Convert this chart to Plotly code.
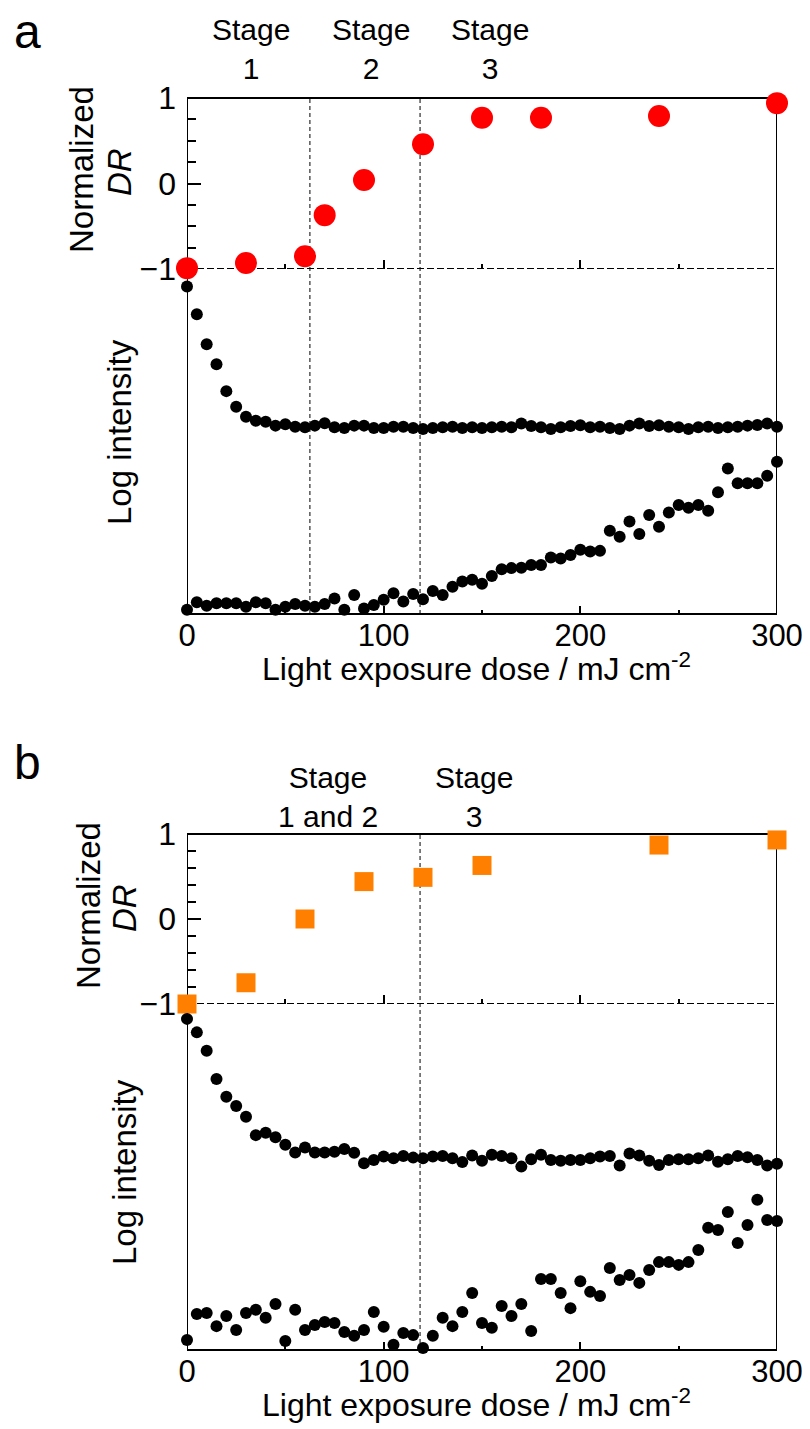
import plotly.graph_objects as go

# ---------------- data ----------------
dose = [i * 5 for i in range(61)]

# Panel a
a_dr_x = [0, 30, 60, 70, 90, 120, 150, 180, 240, 300]
a_dr_y = [-0.99, -0.93, -0.85, -0.37, 0.04, 0.46, 0.77, 0.77, 0.79, 0.94]

a_upper = [9.49, 8.69, 7.82, 7.24, 6.46, 6.01, 5.72, 5.60, 5.57, 5.46,
           5.50, 5.43, 5.41, 5.46, 5.53, 5.41, 5.39, 5.46, 5.46, 5.39,
           5.39, 5.43, 5.43, 5.39, 5.36, 5.39, 5.41, 5.43, 5.39, 5.41,
           5.39, 5.41, 5.43, 5.41, 5.52, 5.45, 5.41, 5.36, 5.41, 5.45,
           5.47, 5.41, 5.43, 5.39, 5.36, 5.46, 5.52, 5.45, 5.47, 5.43,
           5.41, 5.36, 5.41, 5.43, 5.39, 5.41, 5.43, 5.46, 5.48, 5.52,
           5.43]

a_lower = [0.12, 0.34, 0.24, 0.31, 0.31, 0.31, 0.21, 0.34, 0.31, 0.12,
           0.21, 0.29, 0.24, 0.21, 0.29, 0.45, 0.12, 0.55, 0.16, 0.26,
           0.41, 0.60, 0.36, 0.58, 0.43, 0.67, 0.55, 0.79, 0.94, 0.99,
           0.88, 1.10, 1.30, 1.33, 1.34, 1.42, 1.42, 1.64, 1.61, 1.71,
           1.86, 1.81, 1.83, 2.41, 2.24, 2.68, 2.32, 2.87, 2.53, 2.94,
           3.16, 3.08, 3.16, 2.99, 3.53, 4.22, 3.79, 3.79, 3.79, 4.01,
           4.41]

# Panel b
b_dr_x = [0, 30, 60, 90, 120, 150, 240, 300]
b_dr_y = [-1.0, -0.75, 0.0, 0.44, 0.49, 0.63, 0.87, 0.93]

b_upper = [9.57, 9.18, 8.65, 7.83, 7.32, 7.05, 6.74, 6.21, 6.28, 6.15,
           5.93, 5.71, 5.85, 5.71, 5.71, 5.73, 5.81, 5.70, 5.40, 5.49,
           5.59, 5.54, 5.61, 5.56, 5.54, 5.59, 5.61, 5.54, 5.43, 5.62,
           5.47, 5.64, 5.61, 5.54, 5.30, 5.51, 5.64, 5.49, 5.47, 5.49,
           5.49, 5.54, 5.59, 5.61, 5.33, 5.68, 5.62, 5.47, 5.35, 5.49,
           5.51, 5.51, 5.54, 5.62, 5.44, 5.51, 5.61, 5.57, 5.49, 5.33,
           5.38]

b_lower = [0.29, 1.04, 1.07, 0.69, 0.98, 0.58, 1.07, 1.16, 0.93, 1.33,
           0.26, 1.16, 0.58, 0.72, 0.81, 0.78, 0.52, 0.41, 0.58, 1.10,
           0.67, 0.15, 0.49, 0.43, 0.06, 0.41, 0.93, 0.69, 1.10, 1.65,
           0.78, 0.64, 1.27, 0.98, 1.33, 0.55, 2.05, 2.05, 1.65, 1.21,
           1.99, 1.68, 1.56, 2.37, 2.02, 2.17, 1.94, 2.31, 2.54, 2.54,
           2.46, 2.54, 2.89, 3.53, 3.47, 3.99, 3.09, 3.61, 4.34, 3.76,
           3.73]

a_stage_lines = [62.5, 118.5]
b_stage_lines = [118.5]
x_ticks = [0, 100, 200, 300]

# ---------------- layout helpers ----------------
W, H = 810, 1429
FONT = "Liberation Sans, Arial, Helvetica, sans-serif"


def py(p):
    return 1 - p / H


def px(p):
    return p / W


XDOM = [px(187), px(777)]
A_TOP, A_MID, A_BOT = 98, 269, 614
B_TOP, B_MID, B_BOT = 834, 1004, 1350

fig = go.Figure()


def add_pts(x, y, xa, ya, color, size, symbol="circle"):
    fig.add_trace(go.Scatter(
        x=x, y=y, xaxis=xa, yaxis=ya, mode="markers",
        marker=dict(color=color, size=size, symbol=symbol, line=dict(width=0)),
        cliponaxis=False, showlegend=False, hoverinfo="skip"))


add_pts(dose, a_upper, "x2", "y2", "black", 12)
add_pts(dose, a_lower, "x2", "y2", "black", 12)
add_pts(a_dr_x, a_dr_y, "x", "y", "#FF0000", 22)
add_pts(dose, b_upper, "x4", "y4", "black", 12)
add_pts(dose, b_lower, "x4", "y4", "black", 12)
add_pts(b_dr_x, b_dr_y, "x3", "y3", "#FF8000", 19, "square")

tickfont = dict(family=FONT, size=32, color="black")
xtickfont = dict(family=FONT, size=31, color="black")


def xaxis_cfg(anchor, labels, major_len, minor_len):
    return dict(domain=XDOM, range=[0, 300], anchor=anchor, automargin=False,
                showgrid=False, zeroline=False, showline=False,
                ticks="inside", tickmode="array", tickvals=x_ticks,
                ticklen=major_len, tickwidth=2, tickcolor="black",
                showticklabels=labels, tickfont=xtickfont, ticklabelstandoff=0,
                minor=dict(ticks="inside", dtick=50, tick0=0, ticklen=minor_len,
                           tickwidth=2, tickcolor="black"))


def ydr_cfg(anchor, dom, minor_dtick):
    return dict(domain=dom, range=[-1, 1], anchor=anchor, automargin=False,
                showgrid=False, zeroline=False, showline=False,
                ticks="inside", tickmode="linear", tick0=-1, dtick=1,
                ticklen=14, tickwidth=2, tickcolor="black",
                tickfont=tickfont, ticklabelstandoff=10,
                minor=dict(ticks="inside", dtick=minor_dtick, tick0=-1, ticklen=9,
                           tickwidth=2, tickcolor="black"))


def ylow_cfg(anchor, dom):
    return dict(domain=dom, range=[0, 10], anchor=anchor, showgrid=False,
                automargin=False,
                zeroline=False, showline=False, ticks="", showticklabels=False)


fig.update_layout(
    width=W, height=H, autosize=False,
    margin=dict(l=0, r=0, t=0, b=0, pad=0, autoexpand=False),
    paper_bgcolor="white", plot_bgcolor="rgba(0,0,0,0)",
    font=dict(family=FONT, color="black"),
    xaxis=xaxis_cfg("y", False, 9, 5),
    yaxis=ydr_cfg("x", [py(A_MID), py(A_TOP)], 0.25),
    xaxis2=xaxis_cfg("y2", True, 8, 4),
    yaxis2=ylow_cfg("x2", [py(A_BOT), py(A_MID)]),
    xaxis3=xaxis_cfg("y3", False, 9, 5),
    yaxis3=ydr_cfg("x3", [py(B_MID), py(B_TOP)], 0.2),
    xaxis4=xaxis_cfg("y4", True, 8, 4),
    yaxis4=ylow_cfg("x4", [py(B_BOT), py(B_MID)]),
)

shapes = []
for xr, yr, top, bot, lines in [("x", "y", A_TOP, A_BOT, a_stage_lines),
                                ("x3", "y3", B_TOP, B_BOT, b_stage_lines)]:
    shapes.append(dict(type="rect", xref=xr, yref="paper", x0=0, x1=300,
                       y0=py(bot), y1=py(top), line=dict(color="black", width=2),
                       layer="below"))
    shapes.append(dict(type="line", xref=xr, yref=yr, x0=0, x1=300, y0=-1, y1=-1,
                       line=dict(color="black", width=2, dash="7px,3px"), layer="below"))
    for xv in lines:
        shapes.append(dict(type="line", xref=xr, yref="paper", x0=xv, x1=xv,
                           y0=py(bot), y1=py(top),
                           line=dict(color="black", width=1, dash="4px,3px"),
                           layer="below"))
fig.update_layout(shapes=shapes)


def ann(text, x, y, size, angle=0):
    fig.add_annotation(text=text, x=px(x), y=py(y), xref="paper", yref="paper",
                       showarrow=False, textangle=angle, xanchor="center",
                       yanchor="middle", font=dict(family=FONT, size=size, color="black"))


ann("a", 27, 31, 48)
ann("b", 27, 763, 48)
ann("Stage<br>1", 251, 49, 30)
ann("Stage<br>2", 371, 49, 30)
ann("Stage<br>3", 490, 49, 30)
ann("Stage<br>1 and 2", 328, 797, 30)
ann("Stage<br>3", 474, 797, 30)
ann("Normalized", 82, 170, 33, -90)
ann("<i>DR</i>", 119, 172, 33, -90)
ann("Log intensity", 119, 432, 33, -90)
ann("Normalized", 88, 906, 33, -90)
ann("<i>DR</i>", 124, 908, 33, -90)
ann("Log intensity", 124, 1172, 33, -90)
ann("Light exposure dose / mJ cm<sup>-2</sup>", 476, 667, 32)
ann("Light exposure dose / mJ cm<sup>-2</sup>", 476, 1403, 32)

fig.write_html("out.html", config={"displayModeBar": False},
               post_script="document.body.style.margin='0';document.body.style.padding='0';")
